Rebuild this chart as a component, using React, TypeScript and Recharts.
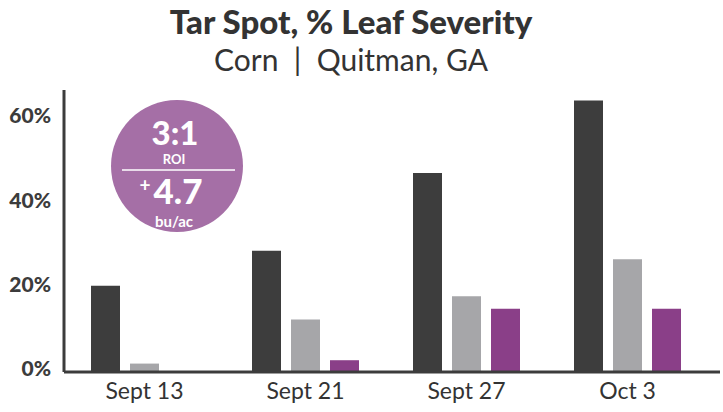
import React from 'react';
import { BarChart, Bar, XAxis, YAxis, Customized } from 'recharts';

const categories = ['Sept 13', 'Sept 21', 'Sept 27', 'Oct 3'];
const untreated = [20.5, 28.8, 47.3, 64.5];
const standard = [2.0, 12.5, 18.0, 26.8];
const treated = [0, 2.8, 15.0, 15.0];
const yTicks = [0, 20, 40, 60];

const data = categories.map((c, i) => ({
  name: c,
  untreated: untreated[i],
  standard: standard[i],
  treated: treated[i],
}));

const FONT = 'Lato, "Noto Sans", sans-serif';
const DARK = '#3c3c3c';

const Badge = () => (
  <g fontFamily={FONT} fill="#ffffff" textAnchor="middle" fontWeight={700}>
    <circle cx={177} cy={166} r={66} fill="#a56fa6" />
    <text x={175} y={145} fontSize={33} fontWeight={900}>3:1</text>
    <text x={174} y={164} fontSize={13}>ROI</text>
    <line x1={122} y1={170} x2={235} y2={170} stroke="#ffffff" strokeWidth={1.5} />
    <text x={178} y={204} fontSize={35} fontWeight={900}>4.7</text>
    <text x={145} y={192} fontSize={19}>+</text>
    <text x={174} y={227} fontSize={15}>bu/ac</text>
  </g>
);

const YTick = (props: any) => {
  const { x, y, payload } = props;
  return (
    <text x={x - 5} y={y + 4} textAnchor="end" fontFamily={FONT} fontWeight={900} fontSize={21} fill={DARK}>
      {payload.value}%
    </text>
  );
};

const XTick = (props: any) => {
  const { x, y, payload } = props;
  return (
    <text x={x} y={y + 19} textAnchor="middle" fontFamily={FONT} fontSize={23} fill="#333333">
      {payload.value}
    </text>
  );
};

export default function App() {
  return (
    <div style={{ position: 'absolute', left: 0, top: 0, width: 723, height: 412, background: '#ffffff' }}>
      <svg width={723} height={90} style={{ position: 'absolute', left: 0, top: 0 }}>
        <text x={351} y={34} textAnchor="middle" fontFamily={FONT} fontWeight={900} fontSize={33} fill="#333333">
          Tar Spot, % Leaf Severity
        </text>
        <text x={351} y={71} textAnchor="middle" fontFamily={FONT} fontSize={30} fill="#333333" style={{ whiteSpace: 'pre' }}>
          {'Corn  |  Quitman, GA'}
        </text>
      </svg>
      <div style={{ position: 'absolute', left: 0, top: 0 }}>
        <BarChart
          width={723}
          height={412}
          data={data}
          margin={{ top: 90, right: 3, bottom: 10, left: 0 }}
          barSize={29}
          barGap={10}
        >
          <XAxis
            dataKey="name"
            height={30}
            tick={<XTick />}
            tickLine={false}
            axisLine={{ stroke: DARK, strokeWidth: 3 }}
            padding={{ left: 0, right: 12 }}
            interval={0}
          />
          <YAxis
            width={64}
            domain={[0, 67]}
            ticks={yTicks}
            tick={<YTick />}
            tickLine={false}
            axisLine={{ stroke: DARK, strokeWidth: 3 }}
            allowDataOverflow
          />
          <Bar dataKey="untreated" fill="#3d3d3d" isAnimationActive={false} />
          <Bar dataKey="standard" fill="#a6a6a9" isAnimationActive={false} />
          <Bar dataKey="treated" fill="#8a3f88" isAnimationActive={false} />
          <Customized component={Badge} />
        </BarChart>
      </div>
    </div>
  );
}
